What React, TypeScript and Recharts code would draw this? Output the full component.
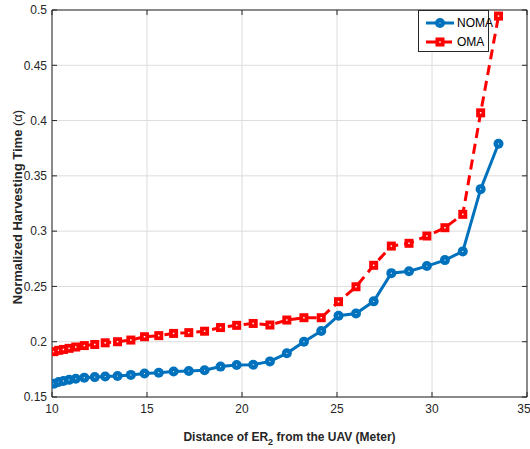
import { LineChart, Line, XAxis, YAxis, CartesianGrid, Label } from 'recharts';

// distance of ER2 from the UAV (m)
const distance = [
  10.1, 10.35, 10.6, 10.9, 11.25, 11.7, 12.25, 12.8, 13.45, 14.15, 14.87, 15.62, 16.4, 17.2, 18.03, 18.87,
  19.72, 20.59, 21.47, 22.36, 23.26, 24.17, 25.08, 26.0, 26.93, 27.86, 28.79, 29.73, 30.68, 31.62, 32.56, 33.5,
];
const nomaTime = [
  0.162, 0.1635, 0.1645, 0.1655, 0.1665, 0.1675, 0.168, 0.1685, 0.169, 0.17, 0.1712, 0.172, 0.173, 0.1735, 0.1742,
  0.1775, 0.179, 0.1792, 0.1822, 0.1895, 0.2, 0.2097, 0.2235, 0.2255, 0.2365, 0.262, 0.2638, 0.2684, 0.2738, 0.2817,
  0.338, 0.379,
];
const omaTime = [
  0.191, 0.1922, 0.193, 0.194, 0.1952, 0.1965, 0.1975, 0.199, 0.2, 0.2015, 0.2045, 0.2055, 0.2075, 0.2082, 0.2095,
  0.2128, 0.2148, 0.2165, 0.2151, 0.2196, 0.2217, 0.2217, 0.2362, 0.2497, 0.2691, 0.2865, 0.289, 0.2956, 0.3031,
  0.3152, 0.407, 0.4945,
];
const xTicks = [10, 15, 20, 25, 30, 35];
const yTicks = [0.15, 0.2, 0.25, 0.3, 0.35, 0.4, 0.45, 0.5];

const data = distance.map((x, i) => ({ x, noma: nomaTime[i], oma: omaTime[i] }));

const BLUE = '#0072BD';
const RED = '#FF0000';
const AXIS = '#262626';
const FONT = '"Liberation Sans", Arial, sans-serif';

const CircleDot = (props: any) => {
  const { cx, cy, index } = props;
  if (cx == null || cy == null) return <g key={`c-${index}`} />;
  return (
    <g key={`c-${index}`}>
      <circle cx={cx} cy={cy} r={5} fill={BLUE} />
      <circle cx={cx} cy={cy} r={0.6} fill="#fff" />
    </g>
  );
};

const SquareDot = (props: any) => {
  const { cx, cy, index } = props;
  if (cx == null || cy == null) return <g key={`s-${index}`} />;
  return (
    <g key={`s-${index}`}>
      <rect x={cx - 4.5} y={cy - 4.5} width={9} height={9} fill={RED} />
      <rect x={cx - 0.75} y={cy - 0.75} width={1.5} height={1.5} fill="#fff" />
    </g>
  );
};

const NoTick = () => <g />;

const XTitle = (props: any) => {
  const { x, y, width } = props.viewBox;
  return (
    <text x={x + width / 2} y={y + 44} textAnchor="middle" fontFamily={FONT} fontSize={12} fontWeight="bold" fill={AXIS}>
      Distance of ER
      <tspan fontSize={9} dy={4}>2</tspan>
      <tspan dy={-4}> from the UAV (Meter)</tspan>
    </text>
  );
};

const YTitle = () => (
  <text x={22} y={207} transform="rotate(-90 22 207)" textAnchor="middle" fontFamily={FONT} fontSize={13} fontWeight="bold" fill={AXIS}>
    Normalized Harvesting Time <tspan fontWeight="normal">(α)</tspan>
  </text>
);

export default function App() {
  return (
    <div style={{ position: 'absolute', left: 0, top: 0, width: 530, height: 449, background: '#fff' }}>
      <LineChart width={530} height={449} data={data} margin={{ top: 10, right: 3, bottom: 22, left: 12 }}>
        <CartesianGrid xAxisId="bottom" yAxisId="left" stroke="#dcdcdc" strokeWidth={1} />
        <XAxis
          xAxisId="bottom"
          dataKey="x"
          type="number"
          domain={[10, 35]}
          ticks={xTicks}
          allowDataOverflow
          height={30}
          tickLine={false}
          tickSize={4}
          tickMargin={3}
          axisLine={{ stroke: AXIS, strokeWidth: 1 }}
          tick={{ fill: AXIS, fontSize: 12, fontFamily: FONT }}
        >
          <Label content={<XTitle />} />
        </XAxis>
        <XAxis xAxisId="bottomIn" dataKey="x" type="number" domain={[10, 35]} ticks={xTicks} allowDataOverflow mirror tick={NoTick} tickSize={5} tickLine={{ stroke: AXIS }} axisLine={false} />
        <XAxis xAxisId="top" orientation="top" dataKey="x" type="number" domain={[10, 35]} ticks={xTicks} allowDataOverflow mirror tick={NoTick} tickSize={5} tickLine={{ stroke: AXIS }} axisLine={{ stroke: AXIS }} />
        <YAxis
          yAxisId="left"
          type="number"
          domain={[0.15, 0.5]}
          ticks={yTicks}
          allowDataOverflow
          width={40}
          tickLine={false}
          tickSize={4}
          tickMargin={1}
          axisLine={{ stroke: AXIS, strokeWidth: 1 }}
          tick={{ fill: AXIS, fontSize: 12, fontFamily: FONT }}
        />
        <YAxis yAxisId="leftIn" type="number" domain={[0.15, 0.5]} ticks={yTicks} allowDataOverflow mirror tick={NoTick} tickSize={5} tickLine={{ stroke: AXIS }} axisLine={false} />
        <YAxis yAxisId="right" orientation="right" type="number" domain={[0.15, 0.5]} ticks={yTicks} allowDataOverflow mirror tick={NoTick} tickSize={5} tickLine={{ stroke: AXIS }} axisLine={{ stroke: AXIS }} />
        <Line
          xAxisId="bottom"
          yAxisId="left"
          type="linear"
          dataKey="noma"
          stroke={BLUE}
          strokeWidth={3}
          dot={CircleDot}
          activeDot={false}
          isAnimationActive={false}
        />
        <Line
          xAxisId="bottom"
          yAxisId="left"
          type="linear"
          dataKey="oma"
          stroke={RED}
          strokeWidth={3}
          strokeDasharray="10 6"
          dot={SquareDot}
          activeDot={false}
          isAnimationActive={false}
        />
        <YTitle />
      </LineChart>
      <div
        style={{
          position: 'absolute',
          left: 418,
          top: 10,
          width: 71,
          height: 42,
          border: `1px solid ${AXIS}`,
          background: '#fff',
          fontFamily: FONT,
          fontSize: 12,
          color: '#000',
          boxSizing: 'border-box',
        }}
      >
        <div style={{ position: 'absolute', left: 6, top: 5, display: 'flex', alignItems: 'center', height: 14 }}>
          <svg width={30} height={12}>
            <line x1={1} y1={6} x2={29} y2={6} stroke={BLUE} strokeWidth={3} />
            <circle cx={15} cy={6} r={5} fill={BLUE} />
            <circle cx={15} cy={6} r={0.6} fill="#fff" />
          </svg>
          <span style={{ marginLeft: 2 }}>NOMA</span>
        </div>
        <div style={{ position: 'absolute', left: 6, top: 24, display: 'flex', alignItems: 'center', height: 14 }}>
          <svg width={30} height={12}>
            <line x1={1} y1={6} x2={29} y2={6} stroke={RED} strokeWidth={3} strokeDasharray="10 6" />
            <rect x={10.5} y={1.5} width={9} height={9} fill={RED} />
            <rect x={14.25} y={5.25} width={1.5} height={1.5} fill="#fff" />
          </svg>
          <span style={{ marginLeft: 2 }}>OMA</span>
        </div>
      </div>
    </div>
  );
}
